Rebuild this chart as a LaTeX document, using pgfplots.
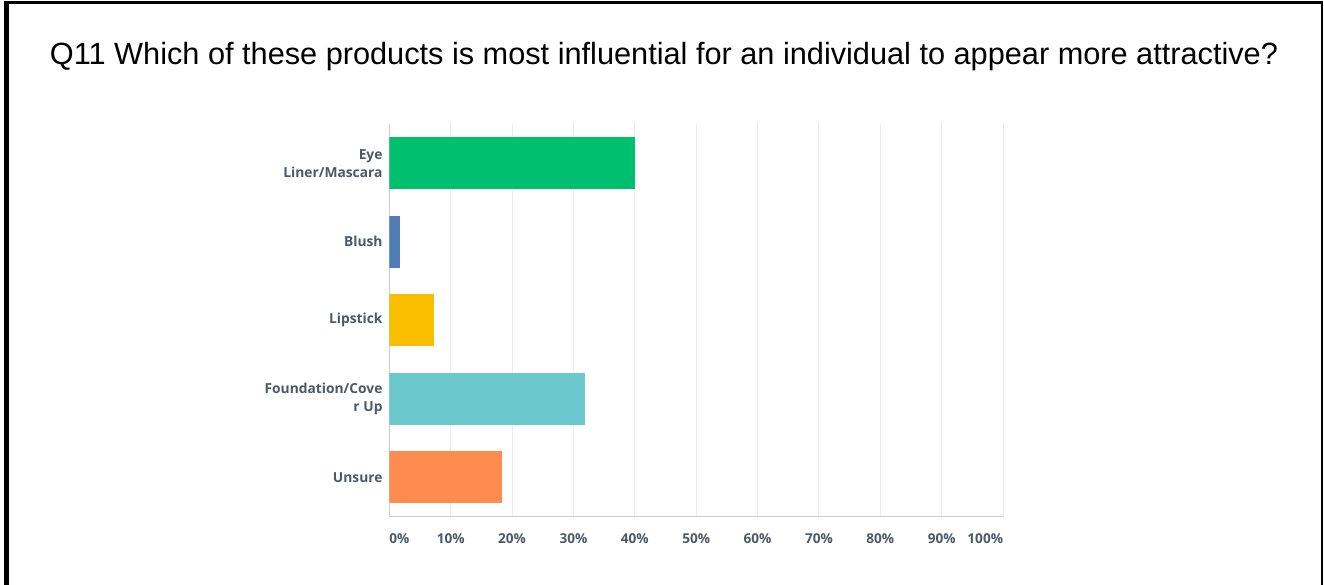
\documentclass[border=0pt]{standalone}
\usepackage{pgfplots}
\pgfplotsset{compat=1.18}
\usepackage{fontspec}
\setmainfont{Liberation Sans}
\newfontfamily\lblfont{Open Sans}
\definecolor{cgreen}{HTML}{00BF6F}
\definecolor{cblue}{HTML}{507CB6}
\definecolor{cyellow}{HTML}{F9BE00}
\definecolor{cteal}{HTML}{6BC8CD}
\definecolor{corange}{HTML}{FF8B4F}
\definecolor{lblgray}{HTML}{4F5963}
\definecolor{gridgray}{HTML}{EBEBEB}
\definecolor{axgray}{HTML}{CCCCCC}
\begin{document}
\begin{tikzpicture}
\useasboundingbox (0pt,0pt) rectangle (1324pt,585pt);
\fill[white] (0pt,0pt) rectangle (1324pt,585pt);
\draw[black, line width=4.5pt] (6.3pt,0pt) -- (6.3pt,584pt);
\draw[black, line width=2.5pt] (4pt,582.5pt) -- (1323pt,582.5pt);
\draw[black, line width=2.5pt] (1321.9pt,584pt) -- (1321.9pt,0pt);
\node[anchor=base, inner sep=0pt, font=\fontsize{30.7}{36}\selectfont] at (664pt,520.7pt)
  {Q11 Which of these products is most influential for an individual to appear more attractive?};
\begin{axis}[
  at={(389.3pt,68.3pt)}, anchor=south west,
  scale only axis, width=613.7pt, height=392.7pt,
  xbar, bar width=52pt, bar shift=0pt,
  xmin=0, xmax=100, ymin=-0.5, ymax=4.5,
  axis lines=left, axis line style={draw=axgray, line width=1.5pt, -},
  xmajorgrids, grid style={draw=gridgray, line width=1pt},
  major tick length=0pt,
  xtick={0,10,...,100},
  xticklabels={\rlap{0\%},10\%,20\%,30\%,40\%,50\%,60\%,70\%,80\%,90\%,\llap{100\%}},
  ytick={0,1,2,3,4},
  yticklabels={Unsure,{Foundation/Cove\\r Up},Lipstick,Blush,{Eye\\Liner/Mascara}},
  xticklabel style={font=\lblfont\bfseries\fontsize{13.6}{16}\selectfont, text=lblgray, anchor=north, inner sep=0pt, yshift=-17pt},
  yticklabel style={font=\lblfont\bfseries\fontsize{13.8}{18}\selectfont, text=lblgray, anchor=east, align=right, inner sep=0pt, xshift=-6.6pt},
]
\addplot[draw=none, fill=cgreen] coordinates {(40.0,4)};
\addplot[draw=none, fill=cblue] coordinates {(1.8,3)};
\addplot[draw=none, fill=cyellow] coordinates {(7.25,2)};
\addplot[draw=none, fill=cteal] coordinates {(31.9,1)};
\addplot[draw=none, fill=corange] coordinates {(18.4,0)};
\end{axis}
\end{tikzpicture}
\end{document}
